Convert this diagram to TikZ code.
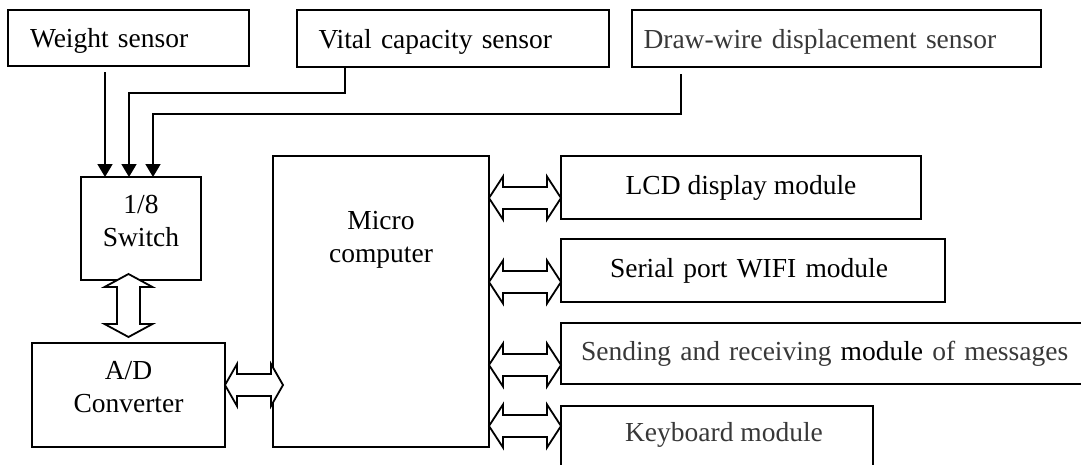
\documentclass[tikz,border=0pt]{standalone}
\usepackage{fontspec}
\setmainfont{Liberation Serif}
\usetikzlibrary{arrows.meta,calc}
\definecolor{dgray}{gray}{0.22}
\newcommand{\dblarrowH}[5]{% start, end, head length, half head, half shaft
  \draw[blk] (#1) -- ++(#3,-#4) -- ++(0,#4-#5) -- ($(#2)+(-#3,-#5)$) -- ++(0,#5-#4)
    -- (#2) -- ++(-#3,#4) -- ++(0,#5-#4) -- ($(#1)+(#3,#5)$) -- ++(0,#4-#5) -- cycle;}
\newcommand{\dblarrowV}[5]{%
  \draw[blk] (#1) -- ++(#4,#3) -- ++(#5-#4,0) -- ($(#2)+(#5,-#3)$) -- ++(#4-#5,0)
    -- (#2) -- ++(-#4,-#3) -- ++(#4-#5,0) -- ($(#1)+(-#5,#3)$) -- ++(#5-#4,0) -- cycle;}
\begin{document}
\begin{tikzpicture}[x=1pt,y=-1pt,
  txtfont/.style={font=\fontsize{27.5}{33}\selectfont},
  box/.style={draw=black,line width=1.8pt,inner sep=0pt,outer sep=0pt,anchor=north west,txtfont},
  lbl/.style={inner sep=0pt,outer sep=0pt,align=center,txtfont},
  sig/.style={line width=1.8pt,-{Triangle[width=15pt,length=13pt]}},
  blk/.style={draw=black,line width=1.8pt,fill=white,line join=miter}]
\useasboundingbox (0,0) rectangle (1081,464);
\clip (0,0) rectangle (1081,464);
% sensors
\node[box,minimum width=241pt,minimum height=56pt,inner xsep=22pt,text width=197pt,align=left,text depth=0pt] (weight) at (8,10) {Weight sensor};
\node[box,minimum width=312pt,minimum height=57pt,inner xsep=21.5pt,text width=269pt,align=left,text depth=0pt] (vital) at (297,10) {Vital capacity sensor};
\node[box,minimum width=409pt,minimum height=57pt,inner xsep=11.5pt,text width=386pt,align=left,text=dgray,text depth=0pt] (draw) at (632,10) {Draw-wire displacement sensor};
% left blocks
\node[box,minimum width=120pt,minimum height=103pt] (switch) at (81,177) {};
\node[lbl] (switchtxt) at (141,221) {1/8\\Switch};
\node[box,minimum width=193pt,minimum height=104pt] (ad) at (32,343) {};
\node[lbl] (adtxt) at (128.5,387) {A/D\\Converter};
\node[box,minimum width=216pt,minimum height=291pt] (micro) at (273,156) {};
\node[lbl] (microtxt) at (381,239.5) {Micro\\computer};
% right modules
\node[box,minimum width=360pt,minimum height=63pt] (lcd) at (561,156) {LCD display module};
\node[box,minimum width=384pt,minimum height=63pt,inner xsep=49pt,text width=286pt,align=left] (serial) at (561,239) {Serial port WIFI module};
\node[box,minimum width=560pt,minimum height=61pt,inner xsep=20pt,text width=520pt,align=left] (send) at (561,323) {\textcolor{dgray}{Sending and receiving} module \textcolor{dgray}{of messages}};
\node[box,minimum width=312pt,minimum height=90pt] (kbd) at (561,406) {};
\node[lbl,text=dgray] (kbdtxt) at (724,435) {Keyboard module};
% sensor signals
\draw[sig] ($(weight.south -| 105,0)+(0,6)$) -- (switch.north -| 105,0);
\draw[sig] (vital.south -| 345,0) -- (345,93) -- (129,93) -- (switch.north -| 129,0);
\draw[sig] ($(draw.south -| 681,0)+(0,7)$) -- (681,114) -- (153,114) -- (switch.north -| 153,0);
% block arrows
\dblarrowV{$(switch.south -| 128.5,0)+(0,-6)$}{$(ad.north -| 128.5,0)+(0,-6)$}{13}{24}{11.5}
\dblarrowH{ad.east |- 0,385}{$(micro.west |- 0,385)+(10,0)$}{12}{21}{11}
\dblarrowH{micro.east |- 0,198}{lcd.west |- 0,198}{14}{21.5}{11}
\dblarrowH{micro.east |- 0,282}{serial.west |- 0,282}{14}{21.5}{11}
\dblarrowH{micro.east |- 0,365}{send.west |- 0,365}{14}{21.5}{11}
\dblarrowH{micro.east |- 0,426}{kbd.west |- 0,426}{14}{21.5}{11}
\end{tikzpicture}
\end{document}
